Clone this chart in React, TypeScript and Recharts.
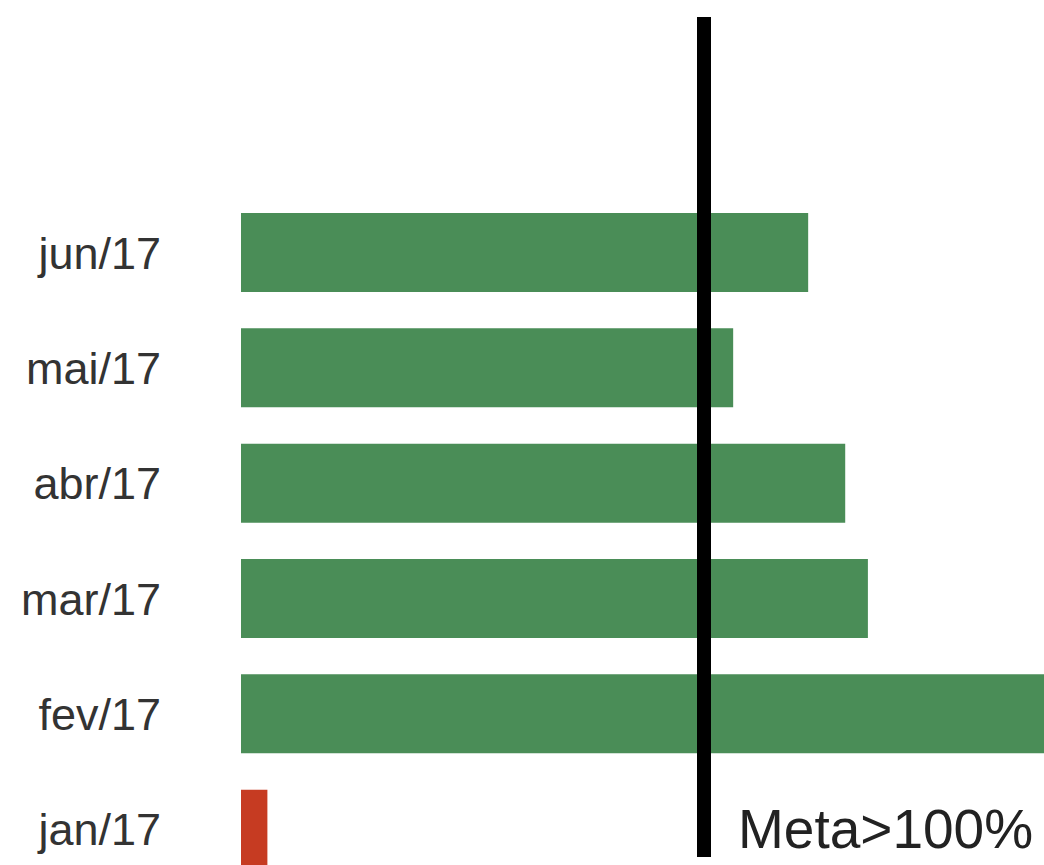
import React from 'react';
import { BarChart, Bar, XAxis, YAxis, ReferenceLine, Cell } from 'recharts';

// months, newest on top
const months = ['jun/17', 'mai/17', 'abr/17', 'mar/17', 'fev/17', 'jan/17'];
// attainment against goal, in %
const attainment = [122.5, 106.3, 130.5, 135.4, 175, 5.7];
const goal = 100;
const xDomain = [0, 200];

const GREEN = '#4a8d57';
const RED = '#c63b22';

const data = months.map((month, i) => ({ month, value: attainment[i] }));

const fontFamily = '"Liberation Sans", Arial, Helvetica, sans-serif';

export default function App() {
    return (
        <div
            style={{
                position: 'fixed',
                top: 0,
                left: 0,
                width: 1044,
                height: 865,
                overflow: 'hidden',
                background: '#fff',
            }}
        >
            <BarChart
                width={1167}
                height={882}
                data={data}
                layout="vertical"
                margin={{ top: 17, right: 0, bottom: 25, left: 0 }}
            >
                <XAxis type="number" domain={xDomain} hide />
                <YAxis
                    type="category"
                    dataKey="month"
                    width={241}
                    axisLine={false}
                    tickLine={false}
                    tickSize={0}
                    tickMargin={80}
                    padding={{ top: 178, bottom: -30 }}
                    tick={{ fill: '#333', fontSize: 45, fontFamily }}
                />
                <Bar dataKey="value" barSize={79} isAnimationActive={false}>
                    {data.map((d) => (
                        <Cell key={d.month} fill={d.value >= goal ? GREEN : RED} />
                    ))}
                </Bar>
                <ReferenceLine
                    x={goal}
                    stroke="#000"
                    strokeWidth={14}
                    label={{
                        content: (props: any) => {
                            const { x, y, height } = props.viewBox;
                            return (
                                <text x={x + 34} y={y + height - 9} fill="#222" fontSize={55} fontFamily={fontFamily}>
                                    Meta&gt;100%
                                </text>
                            );
                        },
                    }}
                />
            </BarChart>
        </div>
    );
}
